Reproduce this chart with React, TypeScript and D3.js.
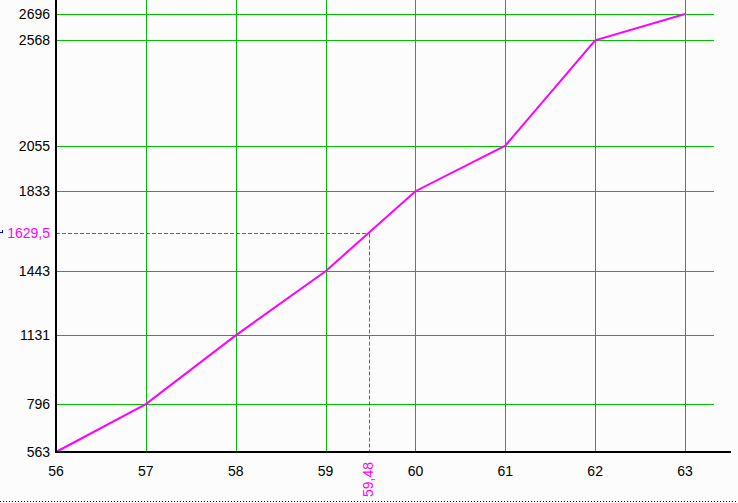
import * as d3 from 'd3';

// chart values
const xValues = [56, 57, 58, 59, 60, 61, 62, 63];
const yValues = [563, 796, 1131, 1443, 1833, 2055, 2568, 2696];
const markerX = 59.48;
const markerY = 1629.5;
const markerXLabel = '59,48';
const markerYLabel = '1629,5';

const W = 738;
const H = 503;
const margin = { top: 14, right: 53, bottom: 51, left: 56 };
const green = '#00c000';
const magenta = '#ff00ff';
const font = '"Liberation Sans Narrow", "Liberation Sans", Arial, sans-serif';

export default function App(): JSX.Element {
  const x = d3.scaleLinear()
    .domain(d3.extent(xValues) as [number, number])
    .range([margin.left, W - margin.right]);

  const y = d3.scaleLinear()
    .domain(d3.extent(yValues) as [number, number])
    .range([H - margin.bottom, margin.top]);

  const points = xValues.map((v, i) => [v, yValues[i]] as [number, number]);
  const line = d3.line<[number, number]>()
    .x(d => x(d[0]))
    .y(d => y(d[1]));

  const x0 = x(xValues[0]);
  const yBase = y(yValues[0]);
  const gridRight = 714;
  const axisRight = 731;

  const px = (v: number) => Math.round(v) + 0.5;
  const mx = px(x(markerX));
  const my = px(y(markerY));

  return (
    <div style={{ position: 'absolute', left: 0, top: 0 }}>
      <svg width={W} height={H} style={{ display: 'block', background: '#fcfcfc' }}>
        {/* vertical grid */}
        <g shapeRendering="crispEdges">
          {xValues.slice(1).map(v => (
            <line key={v} x1={px(x(v))} x2={px(x(v))} y1={0} y2={yBase}
              stroke={green} strokeWidth={1} />
          ))}
          {/* horizontal grid */}
          {yValues.slice(1).map(v => (
            <line key={v} x1={x0} x2={gridRight} y1={px(y(v))} y2={px(y(v))}
              stroke={green} strokeWidth={1} />
          ))}
        </g>

        {/* marker cross-hair */}
        <line x1={x0} x2={mx} y1={my} y2={my}
          stroke={magenta} strokeWidth={1} strokeDasharray="4,2" />
        <line x1={mx} x2={mx} y1={my} y2={yBase}
          stroke={magenta} strokeWidth={1} strokeDasharray="4,2" />

        {/* data line */}
        <path d={line(points) || ''} fill="none" stroke={magenta} strokeWidth={2} />

        {/* axes */}
        <g shapeRendering="crispEdges" stroke="black" strokeWidth={2}>
          <line x1={x0} x2={x0} y1={0} y2={yBase + 1} />
          <line x1={x0 - 1} x2={axisRight} y1={yBase} y2={yBase} />
        </g>

        {/* y tick labels */}
        <g fontFamily={font} fontSize={14} textAnchor="end">
          {yValues.map(v => (
            <text key={v} x={50} y={y(v)} dy="0.36em" fill="black">{v}</text>
          ))}
          <text x={50} y={y(markerY)} dy="0.36em" fill={magenta}>{markerYLabel}</text>
        </g>

        {/* x tick labels */}
        <g fontFamily={font} fontSize={14} textAnchor="middle">
          {xValues.map(v => (
            <text key={v} x={x(v)} y={476} fill="black">{v}</text>
          ))}
          <text
            transform={`translate(${x(markerX) + 4},462) rotate(-90)`}
            textAnchor="end"
            fill={magenta}
          >
            {markerXLabel}
          </text>
        </g>

        {/* small blue cursor mark */}
        <g shapeRendering="crispEdges" fill="#0000ff">
          <rect x={0} y={y(markerY) - 1} width={3} height={1} />
          <rect x={2} y={y(markerY) - 3} width={1} height={2} />
        </g>

        {/* dotted bottom border */}
        <line x1={0} x2={W} y1={501.5} y2={501.5} stroke="black" strokeWidth={1}
          strokeDasharray="1,2" shapeRendering="crispEdges" />
      </svg>
    </div>
  );
}
